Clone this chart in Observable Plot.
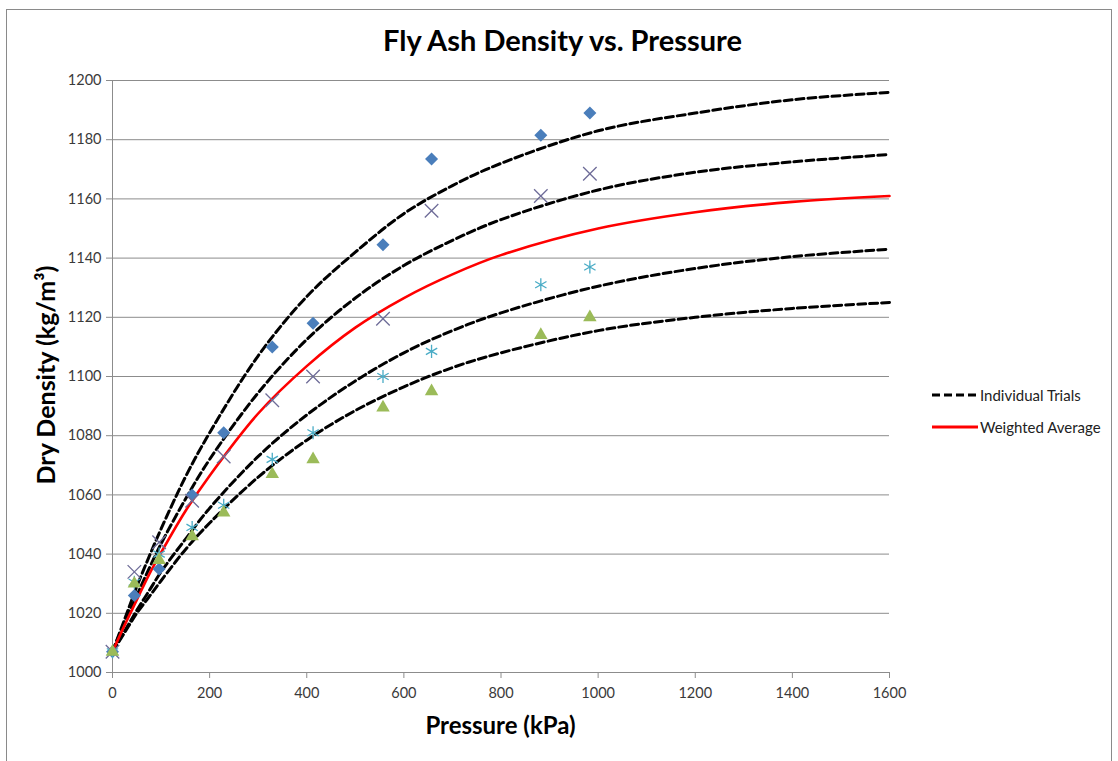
<!DOCTYPE html>
<html>
<head>
<meta charset="utf-8">
<script src="https://cdn.jsdelivr.net/npm/d3@7"></script>
<script src="https://cdn.jsdelivr.net/npm/@observablehq/plot@0.6"></script>
<style>
  html, body { margin: 0; padding: 0; background: #fff; }
  #wrap { position: relative; width: 1118px; height: 761px; overflow: hidden; font-family: Lato, "Open Sans", sans-serif; }
  #frame { position: absolute; left: 6px; top: 9px; width: 1106px; height: 760px; border: 1px solid #8a8a8a; box-sizing: border-box; }
  #chart { position: absolute; left: 0; top: 0; }
  .title { position: absolute; left: 62px; width: 1001px; top: 22px; text-align: center; font-weight: bold; font-size: 29px; color: #000; }
  .xlab { position: absolute; left: 112px; width: 777px; top: 710px; text-align: center; font-weight: bold; font-size: 24px; color: #000; }
  .ylab { position: absolute; left: 45px; top: 375px; transform: translate(-50%, -50%) rotate(-90deg); white-space: nowrap; font-weight: bold; font-size: 25px; color: #000; }
  .leg { position: absolute; left: 932px; font-size: 15px; color: #222; display: flex; align-items: center; white-space: nowrap; }
  .leg svg { margin-right: 2px; }
</style>
</head>
<body>
<div id="wrap">
  <div id="frame"></div>
  <div id="chart"></div>
  <div class="title">Fly Ash Density vs. Pressure</div>
  <div class="xlab">Pressure (kPa)</div>
  <div class="ylab">Dry Density (kg/m³)</div>
  <div class="leg" style="top:386px"><svg width="46" height="6"><line x1="0" y1="3" x2="46" y2="3" stroke="#000" stroke-width="3" stroke-dasharray="8,4"/></svg>Individual Trials</div>
  <div class="leg" style="top:418px"><svg width="46" height="6"><line x1="0" y1="3" x2="46" y2="3" stroke="#ff0000" stroke-width="3"/></svg>Weighted Average</div>
</div>
<script>
// Measured points
const pressure = [0, 45, 96, 164, 229, 329, 413, 557, 657, 882, 983];
const trial1 = [1007, 1026, 1035, 1060, 1081, 1110, 1118, 1144.5, 1173.5, 1181.5, 1189];
const trial2 = [1007, 1034, 1044, 1058, 1073, 1092, 1100, 1119.5, 1156, 1161, 1168.5];
const trial3 = [1007, 1030.5, 1040, 1049, 1056.5, 1072, 1081, 1100, 1108.5, 1131, 1137];
const trial4 = [1007, 1030, 1038, 1046, 1054, 1067, 1072, 1089.5, 1095, 1114, 1120];

// Fitted curves
const curveX = [0, 25, 50, 75, 100, 150, 200, 300, 400, 500, 600, 700, 800, 1000, 1200, 1400, 1600];
const fit1 = [1007, 1018, 1029, 1039, 1048.5, 1066, 1081, 1107, 1127, 1142, 1155, 1164.5, 1172, 1183, 1189, 1193.5, 1196];
const fit2 = [1007, 1017, 1026, 1035, 1043.5, 1058.5, 1072, 1094.5, 1112.5, 1126.5, 1137.5, 1146, 1153, 1163, 1169, 1172.5, 1175];
const fit3 = [1007, 1014, 1021, 1027.5, 1034, 1045, 1055.5, 1073, 1087, 1098.5, 1108, 1115.5, 1121.5, 1130.5, 1136.5, 1140.5, 1143];
const fit4 = [1007, 1013.5, 1020, 1025.5, 1031, 1041.5, 1050.5, 1066, 1078.5, 1088.5, 1096.5, 1103, 1108, 1115.5, 1120, 1123, 1125];
const avgFit = [1007, 1016, 1024.5, 1033, 1040.5, 1054.5, 1066.5, 1087.5, 1103.5, 1116.5, 1126.5, 1134.5, 1141, 1150, 1155.5, 1159, 1161];

const xTicks = [0, 200, 400, 600, 800, 1000, 1200, 1400, 1600];
const yTicks = [1000, 1020, 1040, 1060, 1080, 1100, 1120, 1140, 1160, 1180, 1200];

const pts = (ys) => pressure.map((p, i) => ({x: p, y: ys[i]}));
const fits = [fit1, fit2, fit3, fit4].flatMap((ys, k) => curveX.map((x, i) => ({x, y: ys[i], trial: k})));
const avg = curveX.map((x, i) => ({x, y: avgFit[i]}));

const chart = Plot.plot({
  width: 1118,
  height: 761,
  marginLeft: 112,
  marginRight: 229,
  marginTop: 80,
  marginBottom: 89,
  style: {fontFamily: "Lato, 'Open Sans', sans-serif", fontSize: "14px", background: "transparent"},
  x: {domain: [0, 1600]},
  y: {domain: [1000, 1200]},
  marks: [
    Plot.gridY(yTicks, {stroke: "#8c8c8c", strokeOpacity: 1, strokeWidth: 1}),
    Plot.ruleX([0], {stroke: "#8c8c8c", strokeWidth: 1}),
    Plot.axisY({ticks: yTicks, tickSize: 6, tickPadding: 5, tickFormat: d => String(d), label: null, stroke: "#8c8c8c", fill: "#3a3a3a", fontSize: 14.5}),
    Plot.axisX({ticks: xTicks, tickSize: 6, tickPadding: 9, tickFormat: d => String(d), label: null, stroke: "#8c8c8c", fill: "#3a3a3a", fontSize: 14.5}),
    Plot.line(fits, {x: "x", y: "y", z: "trial", stroke: "#000", strokeWidth: 3, strokeDasharray: "8,4", curve: "catmull-rom"}),
    Plot.line(avg, {x: "x", y: "y", stroke: "#ff0000", strokeWidth: 2.6, curve: "catmull-rom"}),
    Plot.dot(pts(trial1), {x: "x", y: "y", symbol: "square", rotate: 45, r: 5.2, fill: "#4a7ebb", stroke: "none"}),
    Plot.dot(pts(trial2), {x: "x", y: "y", symbol: "times", r: 6.2, stroke: "#6e6c98", strokeWidth: 1.3, fill: "none"}),
    Plot.dot(pts(trial3), {x: "x", y: "y", symbol: "asterisk", r: 6.2, stroke: "#4aacc6", strokeWidth: 1.3, fill: "none"}),
    Plot.dot(pts(trial4), {x: "x", y: "y", symbol: "triangle", r: 5, fill: "#9bbb59", stroke: "none"})
  ]
});
document.getElementById("chart").appendChild(chart);
</script>
</body>
</html>
